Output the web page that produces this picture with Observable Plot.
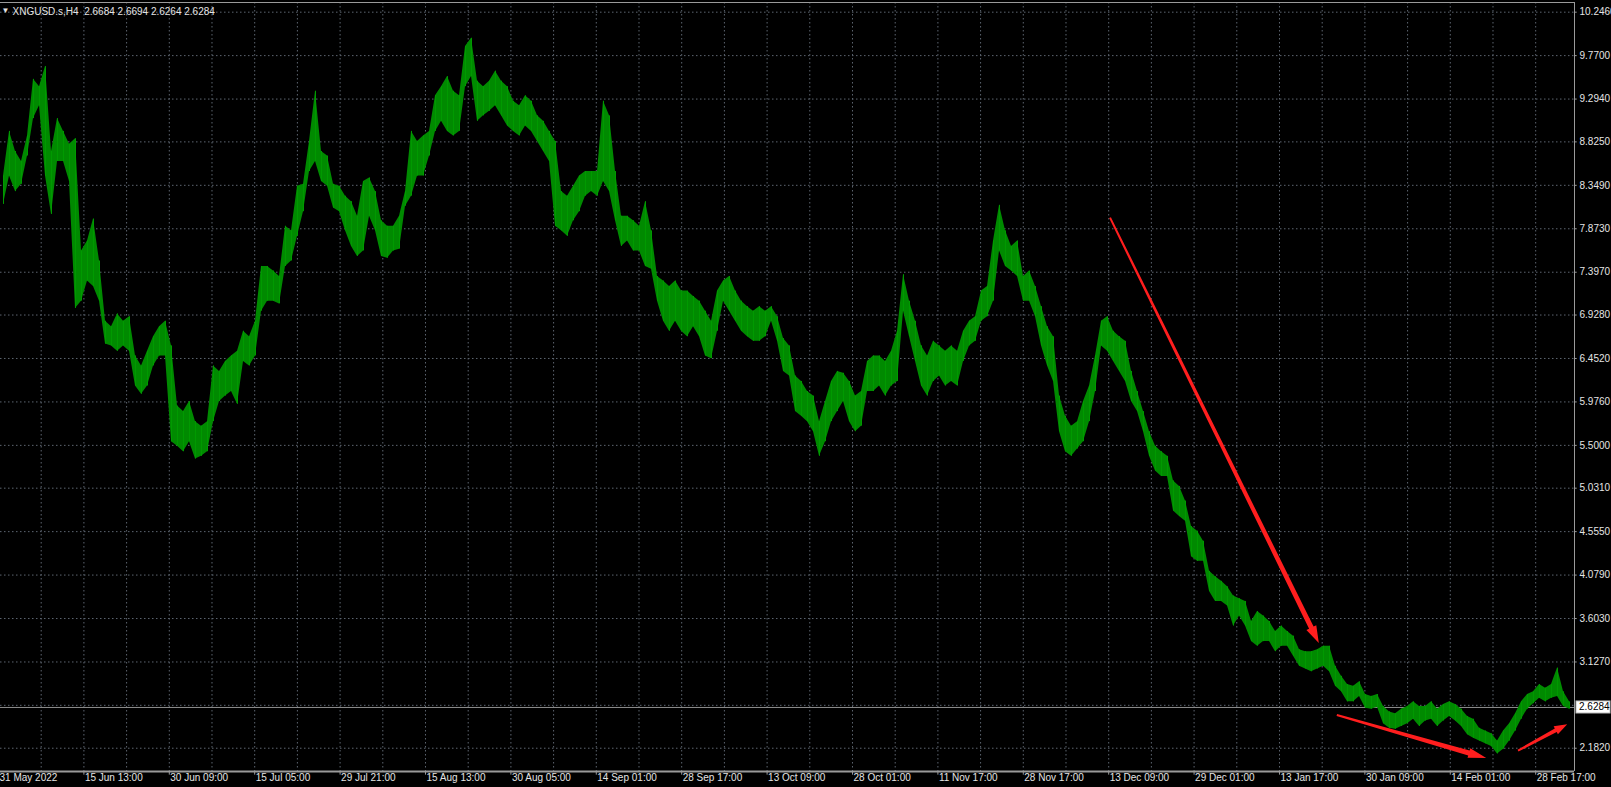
<!DOCTYPE html>
<html><head><meta charset="utf-8">
<style>html,body{margin:0;padding:0;background:#000;overflow:hidden}</style>
<script src="https://cdn.jsdelivr.net/npm/d3@7"></script>
<script src="https://cdn.jsdelivr.net/npm/@observablehq/plot@0.6"></script>
</head><body><div id="chart"></div>
<script>
// ---- data ----
const symbol = "XNGUSD.s,H4";
const ohlcNow = ["2.6684", "2.6694", "2.6264", "2.6284"];
const lastPrice = 2.6284;

// bar-group highs / lows (one value per ~4-5 H4 bars)
const highs = [8.45,8.94,8.72,8.61,8.89,9.51,9.43,9.65,8.72,9.08,8.94,8.80,8.86,7.63,7.74,7.98,7.52,6.86,6.80,6.94,
6.86,6.91,6.48,6.37,6.53,6.69,6.80,6.86,6.59,5.93,5.87,5.98,5.76,5.71,5.76,6.37,6.31,6.42,6.48,6.53,
6.75,6.69,6.86,7.46,7.46,7.41,7.35,7.90,7.85,8.34,8.36,8.83,9.38,8.72,8.67,8.36,8.34,8.23,8.17,8.01,
8.39,8.43,8.28,7.96,7.90,7.90,8.01,8.28,8.94,8.83,8.89,8.94,9.33,9.43,9.54,9.38,9.33,9.87,9.96,9.49,
9.43,9.49,9.60,9.49,9.43,9.27,9.22,9.33,9.27,9.11,9.05,8.94,8.83,8.28,8.23,8.34,8.45,8.50,8.50,8.50,
9.27,9.11,8.50,8.01,8.01,7.96,7.90,8.17,7.85,7.35,7.30,7.24,7.30,7.19,7.19,7.13,7.08,6.97,6.86,7.19,
7.30,7.35,7.19,7.08,7.02,6.97,7.02,6.97,7.02,6.91,6.67,6.59,6.26,6.20,6.09,6.04,5.76,5.98,6.20,6.31,
6.29,6.20,6.04,6.09,6.42,6.48,6.48,6.42,6.53,6.75,7.37,7.08,6.86,6.59,6.48,6.64,6.59,6.53,6.59,6.53,
6.75,6.86,6.91,7.19,7.24,7.74,8.13,7.85,7.68,7.74,7.35,7.41,7.24,7.02,6.80,6.69,6.04,5.82,5.71,5.76,
5.98,6.15,6.48,6.86,6.91,6.75,6.69,6.64,6.31,6.09,5.87,5.65,5.49,5.43,5.38,5.11,5.05,4.89,4.61,4.56,
4.45,4.12,4.06,4.01,3.95,3.85,3.82,3.79,3.57,3.68,3.63,3.57,3.46,3.52,3.46,3.41,3.26,3.24,3.24,3.26,
3.30,3.30,3.08,2.97,2.88,2.86,2.91,2.77,2.75,2.77,2.64,2.58,2.56,2.61,2.64,2.69,2.64,2.64,2.69,2.61,
2.66,2.69,2.66,2.61,2.53,2.50,2.40,2.37,2.34,2.26,2.37,2.45,2.56,2.69,2.77,2.80,2.88,2.84,2.88,3.06,
2.80,2.69];
const lows = [8.14,8.45,8.28,8.36,8.67,9.08,9.22,8.45,8.03,8.61,8.61,8.39,7.00,7.08,7.30,7.24,7.08,6.61,6.59,6.53,
6.59,6.53,6.15,6.06,6.15,6.37,6.48,6.48,5.54,5.49,5.43,5.54,5.35,5.38,5.43,5.76,5.98,6.04,6.09,5.95,
6.42,6.37,6.48,6.97,7.08,7.08,7.05,7.46,7.52,7.79,8.06,8.50,8.61,8.39,8.34,8.10,8.06,7.85,7.68,7.57,
7.63,8.01,7.85,7.57,7.55,7.63,7.65,8.12,8.23,8.45,8.45,8.67,8.94,9.05,8.94,8.89,8.94,9.43,9.54,9.05,
9.11,9.16,9.22,9.11,9.00,8.94,8.89,9.00,8.94,8.83,8.72,8.61,7.90,7.85,7.79,7.96,8.06,8.23,8.28,8.23,
8.39,8.28,7.96,7.68,7.74,7.63,7.63,7.46,7.43,7.08,6.86,6.75,6.86,6.75,6.69,6.80,6.69,6.48,6.45,6.75,
7.08,6.97,6.86,6.75,6.69,6.64,6.64,6.69,6.86,6.64,6.31,6.26,5.87,5.82,5.76,5.65,5.38,5.54,5.76,5.87,
5.98,5.76,5.65,5.71,6.09,6.09,6.15,6.04,6.15,6.20,6.97,6.69,6.42,6.15,6.04,6.20,6.26,6.15,6.20,6.15,
6.42,6.59,6.64,6.86,6.91,7.08,7.63,7.46,7.41,7.35,7.08,7.08,6.91,6.59,6.37,6.20,5.65,5.43,5.38,5.46,
5.54,5.76,6.09,6.59,6.53,6.42,6.31,6.20,5.98,5.87,5.65,5.38,5.22,5.16,5.16,4.78,4.72,4.67,4.28,4.23,
4.23,3.90,3.79,3.79,3.74,3.52,3.63,3.52,3.35,3.30,3.35,3.35,3.24,3.30,3.30,3.19,3.08,3.05,3.02,3.05,
3.08,3.02,2.86,2.80,2.69,2.69,2.75,2.62,2.61,2.63,2.45,2.40,2.39,2.42,2.45,2.50,2.42,2.48,2.50,2.42,
2.48,2.53,2.48,2.42,2.33,2.29,2.26,2.23,2.20,2.12,2.17,2.26,2.37,2.50,2.61,2.67,2.73,2.69,2.73,2.75,
2.64,2.61];

const priceTicks = [10.2460, 9.7700, 9.2940, 8.8250, 8.3490, 7.8730, 7.3970, 6.9280, 6.4520,
  5.9760, 5.5000, 5.0310, 4.5550, 4.0790, 3.6030, 3.1270, 2.1820];
const unlabeledGrid = [2.6520];
const dateLabels = ["31 May 2022", "15 Jun 13:00", "30 Jun 09:00", "15 Jul 05:00", "29 Jul 21:00",
  "15 Aug 13:00", "30 Aug 05:00", "14 Sep 01:00", "28 Sep 17:00", "13 Oct 09:00", "28 Oct 01:00",
  "11 Nov 17:00", "28 Nov 17:00", "13 Dec 09:00", "29 Dec 01:00", "13 Jan 17:00", "30 Jan 09:00",
  "14 Feb 01:00", "28 Feb 17:00"];

// red hand-drawn arrows, in (bar-group index, price)
const arrowFrom = [[184.5, 7.99], [222.3, 2.54], [252.5, 2.15]];
const arrowTo   = [[219.3, 3.33], [247.2, 2.07], [260.7, 2.44]];

// ---- layout ----
const W = 1611, H = 787;
const X0 = -0.5, X1 = 261.83, Y0 = 1.927, Y1 = 10.352;
const labelStart = -0.833, labelStep = 14.233;
const bars = highs.map((h, i) => ({i, hi: h, lo: lows[i]}));
const dateTicks = dateLabels.map((t, k) => ({i: labelStart + k * labelStep, t}));
const vGrid = d3.range(1, 37).map(k => labelStart + k * labelStep / 2);
const gridCol = "#5d6570", axisCol = "#9a9a9a", textCol = "#e4e4e4";
const font = "'Liberation Sans', Arial, sans-serif";

const plot = Plot.plot({
  width: W, height: H,
  marginLeft: 0, marginRight: 37, marginTop: 2, marginBottom: 16,
  style: {background: "#000", color: textCol, fontFamily: font, fontSize: "10px", overflow: "visible"},
  x: {domain: [X0, X1], axis: null},
  y: {domain: [Y0, Y1], axis: null},
  marks: [
    Plot.ruleX(vGrid, {stroke: gridCol, strokeDasharray: "1.5,2.5"}),
    Plot.ruleY([...priceTicks, ...unlabeledGrid], {stroke: gridCol, strokeDasharray: "1.5,2.5"}),
    Plot.ruleY([lastPrice], {stroke: "#8c8c8c", strokeWidth: 1}),
    Plot.areaY(bars, {x: "i", y1: "lo", y2: "hi", fill: "#008a00"}),
    Plot.ruleX(bars, {x: "i", y1: "lo", y2: "hi", stroke: "#009a00", strokeWidth: 1}),
    // frame lines
    Plot.ruleY([Y0], {stroke: axisCol, strokeWidth: 2}),
    Plot.ruleY([Y1], {stroke: axisCol, strokeWidth: 1}),
    Plot.ruleX([X1], {stroke: axisCol, strokeWidth: 1}),
    // tick marks
    Plot.ruleX(dateTicks.filter(d => d.i > X0), {x: "i", y1: Y0, y2: Y0 - 0.04, stroke: axisCol}),
    Plot.ruleY(priceTicks, {x1: X1, x2: X1 + 0.45, stroke: axisCol}),
    // labels
    Plot.text(dateTicks, {x: "i", text: "t", frameAnchor: "bottom", textAnchor: "start", dx: 1, dy: 9, fill: textCol}),
    Plot.text(priceTicks, {y: d => d, text: d => d.toFixed(4), frameAnchor: "right", textAnchor: "start", dx: 5, fill: textCol}),
    Plot.text(["\u25BC"], {frameAnchor: "top-left", textAnchor: "start", dx: 1, dy: 5, fontSize: 8, fill: textCol}),
    Plot.text([symbol + "  " + ohlcNow.join(" ")], {frameAnchor: "top-left", textAnchor: "start", dx: 12, dy: 5, fill: textCol})
  ]
});
document.getElementById("chart").appendChild(plot);

// ---- annotations drawn with the plot's scales ----
const sx = plot.scale("x"), sy = plot.scale("y");
const svg = d3.select(plot.tagName.toLowerCase() === "svg" ? plot : plot.querySelector("svg"));
const specs = [
  {w0: 2, w1: 5, L: 17, hw: 11},
  {w0: 2, w1: 5, L: 18, hw: 10},
  {w0: 2, w1: 4, L: 13, hw: 9}
];
arrowFrom.forEach((a, k) => {
  const b = arrowTo[k], s = specs[k];
  const x0 = sx.apply(a[0]), y0 = sy.apply(a[1]);
  const x1 = sx.apply(b[0]), y1 = sy.apply(b[1]);
  const len = Math.hypot(x1 - x0, y1 - y0);
  const ux = (x1 - x0) / len, uy = (y1 - y0) / len, nx = -uy, ny = ux;
  const bx = x1 - ux * s.L, by = y1 - uy * s.L;
  const pts = [
    [x0 + nx * s.w0 / 2, y0 + ny * s.w0 / 2],
    [bx + nx * s.w1 / 2, by + ny * s.w1 / 2],
    [bx + nx * s.hw / 2, by + ny * s.hw / 2],
    [x1, y1],
    [bx - nx * s.hw / 2, by - ny * s.hw / 2],
    [bx - nx * s.w1 / 2, by - ny * s.w1 / 2],
    [x0 - nx * s.w0 / 2, y0 - ny * s.w0 / 2]
  ];
  svg.append("polygon").attr("points", pts.map(p => p.join(",")).join(" ")).attr("fill", "#ff1e1e");
});

// current price box
const yp = sy.apply(lastPrice);
const xr = sx.apply(X1);
svg.append("rect").attr("x", xr + 2).attr("y", yp - 6).attr("width", W - xr - 3).attr("height", 12)
  .attr("fill", "#ffffff").attr("stroke", "#c0c0c0");
svg.append("text").attr("x", xr + 5).attr("y", yp).attr("dy", "0.35em").attr("text-anchor", "start")
  .attr("fill", "#000").attr("font-size", 10).attr("font-family", font).text(lastPrice.toFixed(4));
</script>
</body></html>
